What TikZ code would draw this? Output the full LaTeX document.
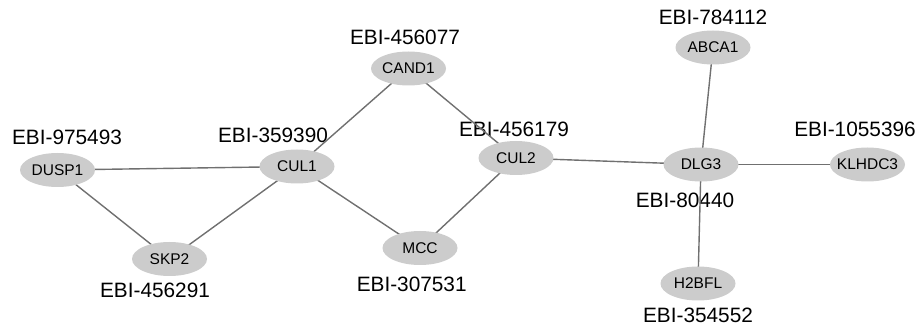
\documentclass[tikz,border=0pt]{standalone}
\usepackage{fontspec}
\setmainfont{Liberation Sans}
\usetikzlibrary{shapes.geometric}
\definecolor{nodefill}{HTML}{CCCCCC}
\definecolor{edgecol}{HTML}{707070}
% identifiers at the bottom, interaction lines above them, proteins on top
\pgfdeclarelayer{labels}
\pgfdeclarelayer{edges}
\pgfsetlayers{labels,edges,main}
\tikzset{
  protein/.style={ellipse, fill=nodefill, draw=none, minimum width=75pt,
    minimum height=34pt, inner sep=0pt, font=\fontsize{15.5}{18}\selectfont},
  ebi/.style={inner sep=0pt, font=\fontsize{20.8}{24}\selectfont},
  link/.style={draw=edgecol, line width=1.4pt}
}
\newcommand{\pname}[1]{\makebox[0pt]{#1}}
\begin{document}
\begin{tikzpicture}[x=1pt, y=-1pt]
\useasboundingbox (0,0) rectangle (919,331);

% protein nodes
\node[protein] (dusp1) at (57.5,170) {\pname{DUSP1}};
\node[protein] (cul1) at (297,166.5) {\pname{CUL1}};
\node[protein] (skp2) at (169.5,259) {\pname{SKP2}};
\node[protein] (cand1) at (408.5,68.5) {\pname{CAND1}};
\node[protein] (mcc) at (420,248) {\pname{MCC}};
\node[protein] (cul2) at (516,158) {\pname{CUL2}};
\node[protein] (dlg3) at (701,164.5) {\pname{DLG3}};
\node[protein] (abca1) at (713,47.5) {\pname{ABCA1}};
\node[protein] (klhdc3) at (867.5,164.5) {\pname{KLHDC3}};
\node[protein] (h2bfl) at (698,283.5) {\pname{H2BFL}};

% identifier labels
\begin{pgfonlayer}{labels}
\node[ebi] (l975493) at (67,137.5) {EBI-975493};
\node[ebi] (l359390) at (273,135.5) {EBI-359390};
\node[ebi] (l456291) at (155,290.5) {EBI-456291};
\node[ebi] (l456077) at (405,37.5) {EBI-456077};
\node[ebi] (l307531) at (411.7,284) {EBI-307531};
\node[ebi] (l456179) at (514,129.5) {EBI-456179};
\node[ebi] (l784112) at (713,17.5) {EBI-784112};
\node[ebi] (l1055396) at (855,129) {EBI-1055396};
\node[ebi] (l80440) at (685,200.5) {EBI-80440};
\node[ebi] (l354552) at (698,315) {EBI-354552};
\end{pgfonlayer}

% interactions, centre to centre
\begin{pgfonlayer}{edges}
\path[link] (dusp1.center) -- (cul1.center);
\path[link] (dusp1.center) -- (skp2.center);
\path[link] (skp2.center) -- (cul1.center);
\path[link] (cul1.center) -- (cand1.center);
\path[link] (cul1.center) -- (mcc.center);
\path[link] (cand1.center) -- (cul2.center);
\path[link] (mcc.center) -- (cul2.center);
\path[link] (cul2.center) -- (dlg3.center);
\path[link] (dlg3.center) -- (abca1.center);
\path[link] (dlg3.center) -- (klhdc3.center);
\path[link] (dlg3.center) -- (h2bfl.center);
\end{pgfonlayer}
\end{tikzpicture}
\end{document}
